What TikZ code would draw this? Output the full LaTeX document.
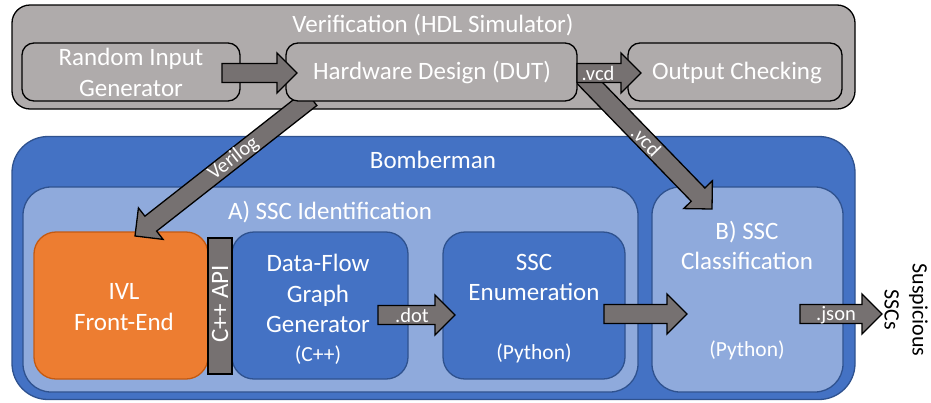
\documentclass[tikz,border=0pt]{standalone}
\usepackage{fontspec}
\setmainfont{Carlito}
\usetikzlibrary{calc}

\definecolor{vgray}{HTML}{AFABAB}
\definecolor{agray}{HTML}{767171}
\definecolor{bblue}{HTML}{4472C4}
\definecolor{bedge}{HTML}{2F528F}
\definecolor{lblue}{HTML}{8FAADC}
\definecolor{ivlor}{HTML}{ED7D31}
\definecolor{ivledge}{HTML}{C55A11}

% Fat outlined arrow from coordinate #1 to coordinate #2
\newcommand\blockarrow[2]{%
  \pgfpointdiff{\pgfpointanchor{#1}{center}}{\pgfpointanchor{#2}{center}}%
  \pgfgetlastxy{\bdx}{\bdy}%
  \pgfmathsetmacro\bang{atan2(\bdy,\bdx)}%
  \pgfmathsetmacro\blen{veclen(\bdx,\bdy)}%
  \pgfmathsetmacro\bneck{\blen-20}%
  \begin{scope}[shift={(#1)},rotate=\bang]
    \draw[fatarrow] (0pt,-9.5pt) -- (\bneck pt,-9.5pt) -- (\bneck pt,-20pt)
      -- (\blen pt,0pt) -- (\bneck pt,20pt) -- (\bneck pt,9.5pt) -- (0pt,9.5pt) -- cycle;
  \end{scope}%
}

\tikzset{
  fatarrow/.style={draw=black, fill=agray, line width=1.3pt, line join=miter},
  panel/.style={rectangle, inner sep=0pt, line width=1.3pt},
  vbox/.style={panel, draw=black, fill=vgray, rounded corners=12pt},
  outerbox/.style={panel, draw=bedge, fill=bblue, rounded corners=36pt},
  stagebox/.style={panel, draw=bedge, fill=lblue, rounded corners=28pt},
  toolbox/.style={panel, draw=bedge, fill=bblue, rounded corners=22pt},
  big/.style={text=white, align=center, inner sep=0pt,
    font=\fontsize{25}{30.5}\selectfont},
  small/.style={text=white, align=center, inner sep=0pt,
    font=\fontsize{21.5}{26}\selectfont},
  lbl/.style={text=white, inner sep=0pt, font=\fontsize{20.5}{24}\selectfont},
}

\begin{document}
\begin{tikzpicture}[x=1pt, y=-1pt]
\useasboundingbox (0,0) rectangle (931,402);

% Simulation environment
\node[vbox, rounded corners=18pt, minimum width=843pt, minimum height=104pt] (verif) at (433.5,57) {};
\node[big] (verift) at (433,25) {Verification (HDL Simulator)};

% Bomberman framework
\node[outerbox, minimum width=843pt, minimum height=263pt] (bomb) at (433.5,268) {};
\node[big] (bombt) at (433,160) {Bomberman};
\node[stagebox, minimum width=615pt, minimum height=205pt] (stagea) at (330.5,289.5) {};
\node[big] (stageat) at (330,212) {A) SSC Identification};
\node[stagebox, minimum width=191pt, minimum height=205pt] (stageb) at (747.5,289.5) {};
\node[big] (stagebt) at (747,245.5) {B) SSC\\Classification};
\node[small] (stagebp) at (747,350) {(Python)};

% Tools of stage A
\node[panel, draw=ivledge, fill=ivlor, rounded corners=22pt, minimum width=174pt, minimum height=147pt] (ivl) at (121,305.5) {};
\node[big] (ivlt) at (124,307) {IVL\\Front-End};
\node[toolbox, minimum width=176pt, minimum height=147pt] (dfg) at (320,305.5) {};
\node[big] (dfgt) at (318,293.5) {Data-Flow\\Graph\\Generator};
\node[small] (dfgp) at (318,355) {(C++)};
\node[panel, draw=black, fill=agray, minimum width=24pt, minimum height=136pt] (api) at (220,306) {};
\node[big, rotate=90] (apit) at (220,304) {C++ API};
\node[toolbox, minimum width=182pt, minimum height=147pt] (enum) at (534,305.5) {};
\node[big] (enumt) at (534,277.5) {SSC\\Enumeration};
\node[small] (enump) at (534,353) {(Python)};

% Arrows leaving the simulator
\coordinate (vl-a) at (311,98);
\coordinate (vl-b) at (135,236);
\blockarrow{vl-a}{vl-b}
\path (vl-a) -- (vl-b) node[lbl, pos=0.44, sloped] (vlt) {Verilog};
\coordinate (vd-a) at (583,76);
\coordinate (vd-b) at (712,209);
\blockarrow{vd-a}{vd-b}
\path (vd-a) -- (vd-b) node[lbl, pos=0.49, sloped] (vdt) {.vcd};

% Simulator blocks
\node[vbox, minimum width=218pt, minimum height=58pt] (rand) at (131,72) {};
\node[big] (randt) at (131,72.5) {Random Input\\Generator};
\node[vbox, minimum width=291pt, minimum height=58pt] (dut) at (431.5,72) {};
\node[big] (dutt) at (432,73) {Hardware Design (DUT)};
\node[vbox, minimum width=214pt, minimum height=58pt] (chk) at (735,72) {};
\node[big] (chkt) at (737,73) {Output Checking};

% Horizontal flow arrows
\coordinate (ri-a) at (222,73);
\coordinate (ri-b) at (297,73);
\blockarrow{ri-a}{ri-b}
\coordinate (oc-a) at (577,73);
\coordinate (oc-b) at (641,73);
\blockarrow{oc-a}{oc-b}
\node[lbl] (oct) at (598,73) {.vcd};
\coordinate (dt-a) at (378,315);
\coordinate (dt-b) at (455,315);
\blockarrow{dt-a}{dt-b}
\node[lbl] (dtt) at (412,315) {.dot};
\coordinate (en-a) at (604,314);
\coordinate (en-b) at (687,314);
\blockarrow{en-a}{en-b}
\coordinate (js-a) at (800,314);
\coordinate (js-b) at (882,314);
\blockarrow{js-a}{js-b}
\node[lbl] (jst) at (836,315) {.json};

% Result
\node[align=center, inner sep=0pt, rotate=-90, font=\fontsize{22}{28}\selectfont] (sus) at (906,310) {Suspicious\\SSCs};
\end{tikzpicture}
\end{document}
